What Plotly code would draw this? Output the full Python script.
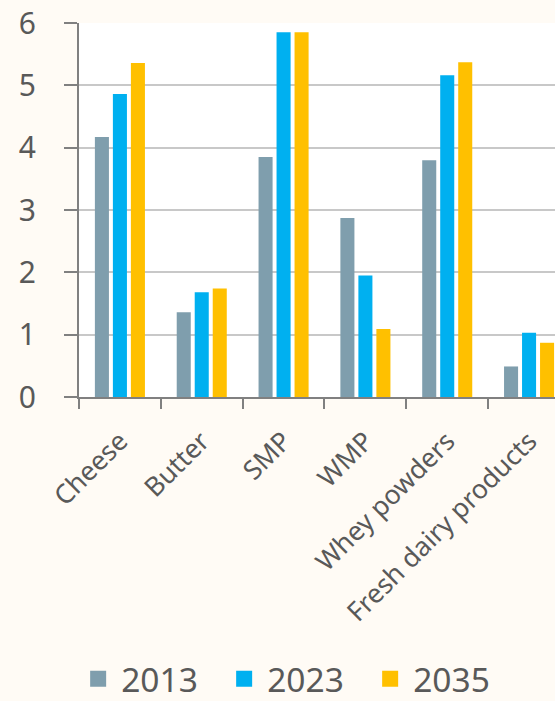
import plotly.graph_objects as go

categories = ["Cheese", "Butter", "SMP", "WMP", "Whey powders", "Fresh dairy products"]
years = ["2013", "2023", "2035"]
v2013 = [4.17, 1.36, 3.85, 2.87, 3.80, 0.49]
v2023 = [4.86, 1.68, 5.85, 1.95, 5.16, 1.03]
v2035 = [5.36, 1.74, 5.85, 1.09, 5.37, 0.87]
colors = ["#7F9EAD", "#00B0F0", "#FFC000"]
y_ticks = [0, 1, 2, 3, 4, 5, 6]

series = [v2013, v2023, v2035]
FONT = "Noto Sans"
TXT = "#595959"

fig = go.Figure()
for name, vals, col in zip(years, series, colors):
    fig.add_trace(go.Bar(x=categories, y=vals, name=name, marker=dict(color=col, line=dict(width=0)),
                         showlegend=False, legendgroup=name))
for name, col in zip(years, colors):
    fig.add_trace(go.Scatter(x=[None], y=[None], mode="markers", name=name, legendgroup=name,
                             marker=dict(symbol="square", size=22, color=col)))

fig.update_layout(
    width=555, height=701,
    margin=dict(l=79, r=0, t=23, b=304, pad=0),
    paper_bgcolor="#FFFBF5",
    plot_bgcolor="#FFFFFF",
    barmode="group",
    bargap=0.34,
    bargroupgap=0.22,
    font=dict(family=FONT, color=TXT),
    legend=dict(orientation="h", xref="container", yref="container",
                x=0.53, xanchor="center", y=(701 - 679) / 701, yanchor="middle",
                font=dict(size=33.5, color=TXT, family=FONT), bgcolor="rgba(0,0,0,0)",
                itemwidth=36, entrywidth=95, itemsizing="trace", traceorder="normal"),
)
fig.update_xaxes(
    type="category", range=[-0.5, 5.317], automargin=False,
    showline=True, linecolor="#808080", linewidth=2,
    ticks="outside", tickson="boundaries", ticklen=10, tickwidth=2, tickcolor="#808080",
    tickangle=-45, tickfont=dict(size=26.5, color=TXT, family=FONT), ticklabelstandoff=16,
    showgrid=False, zeroline=False,
)
fig.update_yaxes(
    range=[0, 6], tickvals=y_ticks, automargin=False,
    showline=True, linecolor="#808080", linewidth=2,
    ticks="outside", ticklen=13, tickwidth=2, tickcolor="#808080",
    tickfont=dict(size=30, color=TXT, family=FONT), ticklabelstandoff=22,
    showgrid=True, gridcolor="#C8C8C8", gridwidth=1.5,
    zeroline=False,
)

fig.write_html("out.html")
